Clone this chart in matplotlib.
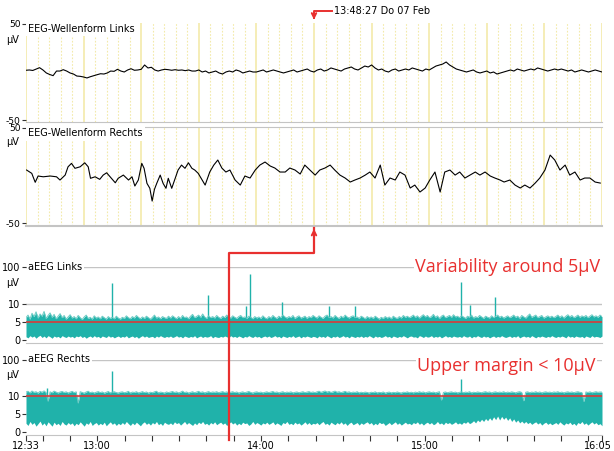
import matplotlib.pyplot as plt
import matplotlib.transforms as mtransforms
from matplotlib.patches import FancyArrowPatch
import numpy as np

# ---------------- data ----------------
# raw EEG, left channel (uV), evenly sampled over the 10 s window
eeg_links = [1.8, 2.1, 1.6, 3.1, 4.5, 2.1, -1.0, -2.6, -3.8, 1.0,
             1.0, 2.4, 1.0, -1.0, -2.1, -4.2, -4.5, -5.2, -6.2, -4.9,
             -3.8, -2.8, -1.8, -2.1, -1.0, 1.0, 0.7, 2.8, 1.0, 0.0,
             2.1, 3.4, 1.8, 2.1, 2.8, 7.3, 4.2, 4.9, 2.1, 1.0,
             2.1, 2.8, 2.4, 1.8, 2.4, 1.8, 2.1, 1.4, 2.1, 1.0,
             1.0, 2.1, 0.0, 1.0, -1.0, 0.0, 1.0, -1.0, -2.1, 0.0,
             1.0, 0.0, 2.1, 1.0, -1.0, 0.0, 1.0, 0.0,
             0.0, 1.0, 2.1, 0.0, 1.0, 2.1, 1.0, 0.0, -1.0, 0.0,
             1.0, 2.1, 0.0, 1.0, 2.1, 3.1, 1.0, 0.0,
             2.1, 3.1, 1.0, 2.1, 4.2, 3.1, 2.1, 1.0, 3.1, 4.2,
             5.2, 3.1, 2.1, 4.2, 6.2, 5.2, 7.3, 4.2,
             2.1, 3.1, 1.0, 0.0, 2.1, 3.1, 1.0, 2.1, 3.1, 2.1,
             4.2, 3.1, 2.1, 1.0, 3.1, 2.1, 4.2, 6.2,
             7.3, 8.3, 10.4, 7.3, 5.2, 3.1, 2.1, 1.0, 0.0, 1.0,
             2.1, 0.0, -1.0, 0.0, 1.0, -1.0, 0.0, -2.1,
             -1.0, 0.0, 1.0, 2.1, 1.0, 3.1, 2.1, 1.0, 2.1, 3.1,
             2.1, 4.2, 3.1, 2.1, 1.0, 2.1, 3.1, 2.1,
             3.1, 2.1, 1.0, 2.1, 0.0, 1.0, 2.1, 1.0, 0.0, 1.0,
             2.1, 1.0, 0.0]

# raw EEG, right channel: sample time (s) and amplitude (uV)
rechts_t = [0.01, 0.10, 0.16, 0.21, 0.30, 0.42, 0.53, 0.59, 0.68, 0.73,
            0.79, 0.85, 0.94, 1.02, 1.08, 1.12, 1.20, 1.28, 1.34, 1.40,
            1.46, 1.55, 1.60, 1.69, 1.78, 1.84, 1.89, 1.95, 2.01, 2.05,
            2.10, 2.15, 2.19, 2.23, 2.27, 2.33, 2.38, 2.43, 2.47, 2.53,
            2.59, 2.64, 2.70, 2.76, 2.82, 2.88, 2.93, 2.99, 3.11, 3.19,
            3.26, 3.33, 3.40, 3.47, 3.54, 3.63, 3.72, 3.80, 3.89, 3.98,
            4.06, 4.15, 4.24, 4.32, 4.41, 4.50, 4.58, 4.67, 4.76, 4.84,
            4.93, 5.02, 5.10, 5.19, 5.28, 5.36, 5.45, 5.54, 5.63, 5.71,
            5.80, 5.89, 5.97, 6.06, 6.15, 6.23, 6.32, 6.41, 6.49, 6.58,
            6.67, 6.75, 6.84, 6.93, 7.01, 7.10, 7.19, 7.27, 7.36, 7.45,
            7.53, 7.62, 7.71, 7.80, 7.88, 7.97, 8.06, 8.14, 8.23, 8.30,
            8.40, 8.49, 8.58, 8.66, 8.75, 8.84, 8.92, 9.01, 9.10, 9.18,
            9.27, 9.36, 9.44, 9.53, 9.62, 9.70, 9.79, 9.88, 9.97]
rechts_uv = [5.8, 2.3, -7.1, -0.5, -1.3, -0.5, -1.3, -4.7, 0.5, 9.2,
             12.8, 7.6, 9.2, 13.4, 9.2, -2.9, -1.3, -4.0, 0.5, 2.9,
             -1.3, -7.6, -2.9, 0.5, -4.7, -1.3, -11.0, -4.7, 12.8, 7.6,
             -8.2, -13.4, -26.8, -14.5, -8.2, 0.5, -8.2, -13.4, -2.9, -13.4,
             -2.9, 5.8, 11.0, 7.6, 13.4, 7.6, 5.8, 2.3, -10.0, 3.7,
             11.0, 16.3, 7.9, 3.7, 5.8, -4.7, -10.0, -0.5, -2.6, 5.8,
             11.0, 14.2, 10.0, 7.9, 3.7, 3.7, 7.9, 5.8, 1.6, 11.0,
             5.8, 0.5, 5.8, 7.9, 11.0, 5.8, 0.5, -2.6, -6.8, -4.7,
             -2.6, 0.5, 3.7, -2.6, 11.0, -10.0, -2.6, -4.7, 3.7, 0.5,
             -13.1, -10.0, -17.3, -13.1, -4.7, 3.7, -17.3, 3.7, 5.8, 0.5,
             3.7, -2.6, 0.5, 3.7, 0.5, 3.7, -0.5, -2.6, -4.7, -6.8,
             -4.7, -10.0, -13.1, -10.0, -13.1, -7.9, -2.6, 5.8, 21.5, 16.3,
             5.8, 11.0, 0.5, 3.7, -4.7, -2.6, -2.6, -6.8, -7.9]

# aEEG trend: upper and lower margin (uV), evenly spaced over the recording
aeeg_links_hi = [
    6.2, 6.9, 5.8, 7.4, 6.5, 7.8, 6.1, 7.2, 6.6, 7.9, 6.0, 6.8, 7.5, 6.3, 7.1, 5.9, 6.6, 7.3, 6.2, 6.8, 5.8, 6.4, 7.0, 6.1,
    6.5, 5.9, 6.8, 6.2, 5.7, 6.4, 6.9, 6.0, 6.3, 5.8, 6.7, 6.1, 6.4, 5.9, 6.6, 6.2, 5.8, 6.5, 6.0, 6.3, 5.9, 6.6, 6.1, 5.8,
    6.3, 6.0, 6.7, 6.2, 5.9, 6.5, 6.1, 6.8, 6.3, 5.9, 6.4, 6.0, 6.6, 6.2, 5.8, 6.3, 6.9, 6.1, 6.4, 5.9, 6.5, 6.2, 6.0, 6.6,
    6.1, 6.7, 6.3, 5.9, 6.5, 6.0, 6.8, 6.2, 6.4, 5.9, 6.6, 7.1, 6.2, 6.5, 6.9, 6.3, 7.2, 6.4, 6.0, 6.7, 6.2, 6.5, 6.1, 6.8,
    6.3, 6.0, 6.6, 6.2, 6.9, 6.4, 6.1, 6.7, 6.3, 6.0, 6.5, 6.8, 6.2, 6.4, 6.0, 6.6, 6.3, 5.9, 6.5, 6.1, 6.4, 6.0, 6.7, 6.2,
    5.9, 6.5, 6.1, 6.8, 6.3, 6.0, 6.6, 6.2, 6.9, 6.4, 6.1, 6.5, 6.2, 6.8, 6.0, 6.4, 6.7, 6.1, 6.3, 6.6, 6.0, 6.5, 6.2, 6.8,
    6.4, 6.1, 6.7, 6.3, 6.0, 6.6, 6.9, 6.2, 6.5, 6.1, 6.8, 6.3, 6.0, 6.6, 6.2, 6.9, 6.4, 6.1, 6.5, 6.7, 6.2, 6.4, 6.0, 6.6,
    6.3, 5.9, 6.5, 6.1, 6.4, 6.0, 6.6, 6.2, 5.8, 6.3, 6.0, 6.5, 6.1, 6.4, 5.9, 6.6, 6.2, 6.0, 6.5, 6.1, 6.8, 6.3, 6.6, 6.2,
    6.5, 6.9, 6.3, 6.7, 6.1, 6.6, 7.0, 6.4, 6.8, 6.2, 6.5, 7.1, 6.3, 6.7, 6.0, 6.6, 6.9, 6.2, 6.5, 6.8, 6.3, 7.0, 6.4, 6.6,
    6.2, 6.7, 6.4, 6.0, 6.6, 6.3, 6.9, 6.1, 6.5, 6.2, 6.8, 6.4, 6.0, 6.6, 6.3, 6.1, 6.7, 6.2, 6.5, 6.9, 6.3, 6.6, 6.1, 6.4,
    6.7, 6.2, 6.5, 6.9, 6.3, 6.6, 6.0, 6.8, 6.4, 6.1, 6.7, 7.2, 6.3, 6.6, 6.9, 6.2, 6.5, 6.8, 6.1, 6.4, 6.7, 6.3, 6.6, 6.2,
    6.5, 6.9, 6.3, 6.7, 6.1, 6.6, 7.0, 6.4, 6.8, 6.2, 6.5, 6.9, 6.3, 6.7, 6.4, 6.8, 6.2, 6.6, 7.0, 6.4, 6.7, 6.3, 6.9, 6.5]
aeeg_links_lo = [
    1.0, 0.7, 1.3, 0.9, 1.2, 0.6, 1.1, 1.4, 0.8, 1.2, 0.7, 1.3, 1.0, 0.6, 1.2, 0.9, 1.1, 0.7, 1.3, 1.0, 0.8, 1.2, 0.9, 1.1,
    0.7, 1.2, 1.0, 1.3, 0.8, 1.1, 0.6, 1.0, 1.2, 0.8, 1.3, 0.9, 1.1, 0.7, 1.2, 1.0, 0.8, 1.3, 0.9, 1.1, 0.7, 1.0, 1.2, 0.8,
    1.1, 0.9, 1.3, 0.7, 1.0, 1.2, 0.8, 1.1, 0.6, 1.0, 1.3, 0.9, 1.2, 0.8, 1.0, 1.1, 0.7, 1.2, 0.9, 1.3, 1.0, 0.8, 1.1, 0.9,
    1.2, 0.8, 1.0, 1.3, 0.9, 1.1, 0.7, 1.2, 1.0, 0.8, 1.1, 0.9, 1.3, 0.7, 1.0, 1.2, 0.8, 1.1, 0.9, 1.0, 1.3, 0.7, 1.1, 0.9,
    0.8, 1.1, 0.9, 1.2, 1.0, 0.7, 1.3, 0.9, 1.1, 0.8, 1.2, 1.0, 0.7, 1.1, 0.9, 1.3, 1.0, 0.8, 1.2, 0.9, 1.1, 0.7, 1.0, 1.2,
    0.9, 1.2, 0.8, 1.0, 1.3, 0.9, 1.1, 0.7, 1.2, 1.0, 0.8, 1.1, 0.9, 1.3, 0.8, 1.0, 1.2, 0.7, 1.1, 0.9, 1.2, 1.0, 0.8, 1.1,
    1.0, 0.7, 1.2, 0.9, 1.1, 0.8, 1.3, 1.0, 0.7, 1.1, 0.9, 1.2, 0.8, 1.0, 1.3, 0.9, 1.1, 0.7, 1.2, 1.0, 0.8, 1.1, 0.9, 1.2,
    0.8, 1.1, 0.9, 1.3, 1.0, 0.7, 1.2, 0.9, 1.1, 0.8, 1.0, 1.3, 0.9, 1.1, 0.7, 1.2, 1.0, 0.8, 1.1, 0.9, 1.3, 1.0, 0.7, 1.1,
    1.2, 0.9, 1.0, 0.7, 1.3, 1.1, 0.8, 1.2, 0.9, 1.0, 1.3, 0.8, 1.1, 0.9, 1.2, 0.7, 1.0, 1.3, 0.9, 1.1, 0.8, 1.2, 1.0, 0.9,
    1.1, 0.8, 1.3, 1.0, 0.9, 1.2, 0.7, 1.1, 0.9, 1.3, 1.0, 0.8, 1.2, 0.9, 1.1, 0.7, 1.0, 1.2, 0.8, 1.1, 0.9, 1.3, 1.0, 0.8,
    1.0, 1.2, 0.8, 1.1, 0.9, 1.3, 0.7, 1.0, 1.2, 0.9, 1.1, 0.8, 1.3, 1.0, 0.7, 1.1, 0.9, 1.2, 1.0, 0.8, 1.1, 0.9, 1.3, 1.0,
    0.8, 1.1, 0.9, 1.2, 1.0, 0.7, 1.3, 0.9, 1.1, 0.8, 1.2, 1.0, 0.9, 1.1, 0.7, 1.2, 1.0, 0.8, 1.3, 0.9, 1.1, 1.0, 0.8, 1.2]
aeeg_rechts_hi = [
    12.6, 13.3, 12.0, 13.5, 12.4, 12.9, 11.8, 13.2, 12.5, 13.6, 12.2, 8.5, 12.8, 12.1, 13.4, 12.6, 11.9, 12.7, 13.1, 12.3, 12.8, 11.9, 12.6, 13.2,
    12.2, 12.8, 8.0, 12.9, 12.3, 11.8, 12.7, 13.3, 12.1, 12.6, 11.9, 12.5, 13.0, 12.2, 12.7, 11.8, 12.4, 13.1, 12.0, 12.6, 12.9, 12.2, 11.9, 12.5,
    12.8, 12.1, 12.5, 13.2, 11.9, 12.6, 12.3, 12.9, 12.0, 12.4, 13.0, 12.2, 12.7, 11.8, 12.5, 12.1, 12.8, 13.3, 12.0, 12.6, 12.3, 11.9, 12.7, 12.2,
    12.6, 13.1, 12.3, 12.8, 12.0, 12.5, 13.4, 12.2, 12.7, 11.9, 12.4, 12.9, 12.1, 12.6, 13.2, 12.3, 12.8, 12.0, 12.5, 13.0, 12.2, 12.7, 12.4, 12.9,
    12.1, 12.6, 13.0, 12.3, 12.8, 12.0, 12.5, 12.9, 12.2, 12.7, 11.9, 12.4, 12.8, 12.1, 12.6, 13.1, 12.3, 11.9, 12.5, 12.8, 12.2, 12.6, 12.0, 12.4,
    12.8, 12.2, 12.6, 13.1, 12.3, 12.7, 12.0, 12.5, 12.9, 12.1, 12.6, 12.3, 12.8, 12.0, 12.4, 12.7, 12.1, 12.5, 12.9, 12.2, 12.6, 13.0, 12.3, 12.7,
    12.2, 12.8, 13.3, 12.4, 12.9, 13.5, 12.6, 13.1, 12.3, 12.8, 13.4, 12.5, 12.9, 12.2, 12.7, 13.2, 12.4, 12.8, 12.1, 12.6, 12.3, 12.9, 12.0, 12.5,
    12.1, 12.6, 12.3, 11.9, 12.5, 12.2, 12.8, 12.0, 12.4, 12.1, 12.7, 11.8, 12.3, 12.6, 12.0, 12.4, 12.1, 12.7, 12.2, 11.9, 12.5, 12.3, 12.8, 12.1,
    12.5, 12.0, 12.6, 12.2, 12.9, 12.3, 12.7, 12.0, 12.5, 12.8, 12.2, 12.6, 12.0, 12.4, 12.9, 8.8, 12.3, 12.7, 12.1, 12.5, 12.8, 12.2, 12.6, 12.0,
    12.4, 12.8, 12.1, 12.6, 12.3, 12.9, 12.0, 12.5, 12.2, 12.7, 12.4, 12.1, 12.6, 12.9, 12.3, 12.7, 12.0, 12.5, 12.8, 12.2, 12.6, 12.3, 12.9, 12.1,
    12.6, 12.2, 12.8, 12.4, 12.0, 12.6, 12.9, 12.3, 8.6, 12.5, 12.8, 12.1, 12.6, 12.3, 12.9, 12.2, 12.7, 12.0, 12.5, 12.8, 12.3, 12.6, 12.1, 12.7,
    12.4, 12.9, 12.2, 12.6, 12.0, 12.5, 12.8, 12.3, 12.7, 12.1, 12.6, 12.9, 12.4, 12.2, 8.4, 12.7, 12.3, 12.8, 12.1, 12.5, 12.9, 12.4, 12.7, 12.6]
aeeg_rechts_lo = [
    2.4, 1.8, 2.9, 2.1, 2.6, 1.6, 2.3, 3.0, 1.9, 2.5, 1.7, 2.8, 2.2, 1.6, 2.7, 2.0, 2.4, 1.8, 2.9, 2.2, 1.9, 2.6, 2.1, 2.5,
    1.7, 2.4, 2.0, 2.8, 2.2, 1.6, 2.5, 2.1, 2.9, 1.8, 2.3, 2.6, 1.9, 2.4, 2.0, 2.7, 1.7, 2.3, 2.8, 2.1, 2.5, 1.8, 2.4, 2.0,
    2.6, 2.1, 2.9, 2.3, 1.8, 2.5, 2.0, 2.7, 2.2, 1.7, 2.4, 2.8, 2.1, 2.5, 1.9, 2.6, 2.2, 2.9, 2.0, 2.4, 1.8, 2.7, 2.3, 2.1,
    2.5, 2.0, 2.8, 2.3, 2.6, 1.9, 2.4, 2.9, 2.1, 2.6, 2.2, 1.8, 2.5, 2.0, 2.7, 2.3, 2.9, 2.1, 2.4, 1.9, 2.6, 2.2, 2.8, 2.0,
    2.4, 2.7, 2.1, 2.5, 1.8, 2.3, 2.8, 2.2, 2.6, 1.9, 2.4, 2.0, 2.7, 2.3, 2.5, 1.8, 2.2, 2.9, 2.1, 2.6, 2.3, 1.9, 2.5, 2.2,
    2.7, 2.1, 2.4, 2.8, 2.0, 2.5, 2.2, 1.8, 2.6, 2.3, 2.9, 2.1, 2.4, 2.0, 2.7, 2.2, 2.5, 1.9, 2.3, 2.8, 2.1, 2.6, 2.0, 2.4,
    2.2, 2.6, 2.0, 2.5, 2.9, 2.1, 2.4, 1.9, 2.7, 2.3, 2.0, 2.6, 2.2, 2.8, 2.1, 2.5, 1.8, 2.4, 2.7, 2.0, 2.3, 2.6, 1.9, 2.5,
    2.1, 2.5, 2.8, 2.2, 2.6, 1.9, 2.4, 2.0, 2.7, 2.3, 2.5, 1.8, 2.2, 2.6, 2.0, 2.4, 2.8, 2.1, 2.5, 1.9, 2.3, 2.7, 2.2, 2.4,
    2.0, 2.6, 2.3, 2.8, 2.1, 2.5, 1.9, 2.4, 2.7, 2.2, 2.6, 2.0, 2.3, 2.9, 2.2, 2.5, 2.0, 2.7, 2.3, 2.6, 2.1, 2.4, 2.8, 2.2,
    2.5, 2.1, 2.7, 2.4, 2.9, 2.3, 2.6, 3.1, 2.5, 3.3, 2.8, 3.5, 2.9, 3.7, 3.1, 3.9, 3.2, 4.2, 3.4, 4.4, 3.3, 4.3, 3.5, 4.1,
    3.2, 3.9, 2.9, 3.6, 2.7, 3.3, 2.5, 3.0, 2.4, 2.9, 2.3, 2.7, 2.1, 2.5, 2.8, 2.2, 2.6, 1.9, 2.4, 2.7, 2.1, 2.5, 2.0, 2.3,
    2.6, 2.1, 2.8, 2.3, 1.9, 2.5, 2.2, 2.7, 2.0, 2.4, 1.8, 2.6, 2.3, 2.9, 2.1, 2.5, 1.9, 2.4, 2.8, 2.2, 2.6, 2.0, 2.3, 1.7]

# isolated artefact peaks: minutes after 12:00, peak uV
links_spike_t = [65.5, 100.7, 114.6, 116.0, 127.9, 144.8, 154.6, 193.5, 196.7, 205.7]
links_spike_uv = [36, 17, 9.5, 66, 11, 9.4, 9.5, 38, 9.7, 15.7]
rechts_spike_t = [41.5, 65.5, 193.5]
rechts_spike_uv = [16, 49, 29]

t_start, t_end = 33.9, 245.0          # minutes after 12:00
time_ticks = [t_start, 60, 120, 180, t_end]
time_labels = ['12:33', '13:00', '14:00', '15:00', '16:05']
cursor_min = 108.45                   # 13:48:27
cursor_label = '13:48:27 Do 07 Feb'
eeg_window = 10.0                     # seconds shown in the raw EEG panels

TEAL = '#20b2aa'
TEAL_LIGHT = '#6ccbc4'
RED = '#e8302f'
GRID = '#c4c4c4'
YEL = '#f3eaaa'
W, H = 614, 451

plt.rcParams['font.family'] = 'DejaVu Sans'
fig = plt.figure(figsize=(W / 100, H / 100), dpi=100)


def box(x0, y0, x1, y1):
    return [x0 / W, 1 - y1 / H, (x1 - x0) / W, (y1 - y0) / H]


def fwd(y):
    y = np.asarray(y, float)
    return np.where(y <= 10, y / 10, 1 + np.log10(np.maximum(y, 10) / 10))


def inv(u):
    u = np.asarray(u, float)
    return np.where(u <= 1, u * 10, 10 * 10 ** (u - 1))


def eeg_axes(rect, title, ylim, unit_y):
    ax = fig.add_axes(rect)
    ax.set_xlim(0, eeg_window)
    ax.set_ylim(*ylim)
    for t in np.arange(0, eeg_window + 0.01, 0.2):
        if abs(t - round(t)) < 1e-6:
            ax.axvline(t, color=YEL, lw=1.2, zorder=0)
        else:
            ax.axvline(t, color=YEL, lw=0.8, ls=(0, (1.5, 1.5)), zorder=0)
    ax.set_xticks([])
    ax.set_yticks([50, -50], ['50', '-50'])
    ax.tick_params(axis='y', length=3, width=0.8, color='#333', labelsize=6.6, pad=1)
    for s in ['left', 'right', 'top']:
        ax.spines[s].set_visible(False)
    ax.spines['bottom'].set_color(GRID)
    ax.text(-0.012, unit_y, '\u00b5V', transform=ax.transAxes, ha='right', va='center', fontsize=7)
    ax.text(0.004, 0.985, title, transform=ax.transAxes, ha='left', va='top', fontsize=7,
            bbox=dict(facecolor='white', edgecolor='none', pad=1.5), zorder=3)
    return ax


ax1 = eeg_axes(box(26, 22.5, 602, 121.5), 'EEG-Wellenform Links', (-51.5, 51.5), 0.82)
ax1.plot(np.linspace(0, eeg_window, len(eeg_links)), eeg_links, color='black', lw=0.8)

ax2 = eeg_axes(box(26, 127, 602, 226), 'EEG-Wellenform Rechts', (-53, 51), 0.85)
ax2.spines['top'].set_visible(True)
ax2.spines['top'].set_color(GRID)
ax2.spines['bottom'].set_linewidth(1.5)
ax2.plot(rechts_t, rechts_uv, color='black', lw=0.8)


def aeeg_axes(rect, title, hi, lo, sp_t, sp_uv, ref_level):
    ax = fig.add_axes(rect)
    ax.set_yscale('function', functions=(fwd, inv))
    ax.set_xlim(t_start, t_end)
    ax.set_ylim(-0.7, 100)
    t = np.linspace(t_start, t_end, len(hi))
    ax.fill_between(t, lo, hi, color=TEAL, lw=0, zorder=2)
    # paler rim along the upper margin
    ax.plot(t, hi, color=TEAL_LIGHT, lw=0.7, zorder=2.2)
    ax.vlines(sp_t, 5, sp_uv, color=TEAL, lw=1, zorder=2)
    for lvl in (10, 100):
        ax.axhline(lvl, color=GRID, lw=1, zorder=1)
    ax.axhline(ref_level, color=RED, lw=1.1, zorder=3)
    ax.set_yticks([0, 5, 10, 100], ['0', '5', '10', '100'])
    ax.yaxis.set_minor_locator(plt.NullLocator())
    ax.tick_params(axis='y', length=3, width=0.8, color='#333', labelsize=7, pad=1)
    for s in ['left', 'right', 'top']:
        ax.spines[s].set_visible(False)
    ax.spines['bottom'].set_color(GRID)
    ax.text(-0.012, 0.79, '\u00b5V', transform=ax.transAxes, ha='right', va='center', fontsize=7)
    ax.text(0.004, 1.0, title, transform=ax.transAxes, ha='left', va='center', fontsize=7,
            bbox=dict(facecolor='white', edgecolor='none', pad=1), zorder=4, clip_on=False)
    return ax


ax3 = aeeg_axes(box(26, 267, 602, 343), 'aEEG Links', aeeg_links_hi, aeeg_links_lo,
                links_spike_t, links_spike_uv, 5)
ax3.set_xticks([])

ax4 = aeeg_axes(box(26, 359.5, 602, 434.5), 'aEEG Rechts', aeeg_rechts_hi, aeeg_rechts_lo,
                rechts_spike_t, rechts_spike_uv, 10)
ax4.set_xticks(time_ticks, time_labels)
ax4.set_xticks(np.arange(40, 241, 10), minor=True)
ax4.tick_params(axis='x', which='both', length=4, width=0.8, color='#333', labelsize=7, pad=1)
# keep the last time label inside the figure
last = ax4.get_xticklabels()[-1]
last.set_transform(last.get_transform() + mtransforms.ScaledTranslation(-4 / 100, 0, fig.dpi_scale_trans))

# annotations on the aEEG panels
ax3.text(0.676, 1.0, 'Variability around 5\u00b5V', transform=ax3.transAxes, ha='left', va='center',
         fontsize=13, color=RED, family='Open Sans',
         bbox=dict(facecolor='white', edgecolor='none', pad=1), zorder=5, clip_on=False)
ax4.text(0.679, 0.91, 'Upper margin < 10\u00b5V', transform=ax4.transAxes, ha='left', va='center',
         fontsize=13, color=RED, family='Open Sans',
         bbox=dict(facecolor='white', edgecolor='none', pad=1), zorder=5, clip_on=False)

# cursor: aEEG time -> centre of the raw EEG window
fig.canvas.draw()
to_fig = fig.transFigure.inverted()
xa = to_fig.transform(ax4.transData.transform((cursor_min, 0)))[0]
xe = to_fig.transform(ax2.transData.transform((eeg_window / 2, 0)))[0]
y_low = 1 - 440 / H
y_elbow = 1 - 253 / H
y_ax2 = ax2.get_position().y0
fig.add_artist(plt.Line2D([xa, xa, xe, xe], [y_low, y_elbow, y_elbow, y_ax2 - 0.004],
                          transform=fig.transFigure, color=RED, lw=1.6))
fig.patches.append(FancyArrowPatch((xe, y_ax2 - 0.02), (xe, y_ax2), transform=fig.transFigure,
                                   arrowstyle='->', mutation_scale=8, color=RED, lw=1.4))

y_top = ax1.get_position().y1
y_lbl = 1 - 10.5 / H
x_lbl = 334 / W
fig.add_artist(plt.Line2D([x_lbl - 0.004, xe, xe], [y_lbl, y_lbl, y_top + 0.01],
                          transform=fig.transFigure, color=RED, lw=1.4))
fig.patches.append(FancyArrowPatch((xe, y_lbl), (xe, y_top), transform=fig.transFigure,
                                   arrowstyle='->', mutation_scale=8, color=RED, lw=1.4))
fig.text(x_lbl, y_lbl, cursor_label, ha='left', va='center', fontsize=7)

fig.savefig('out.png', dpi=100)
